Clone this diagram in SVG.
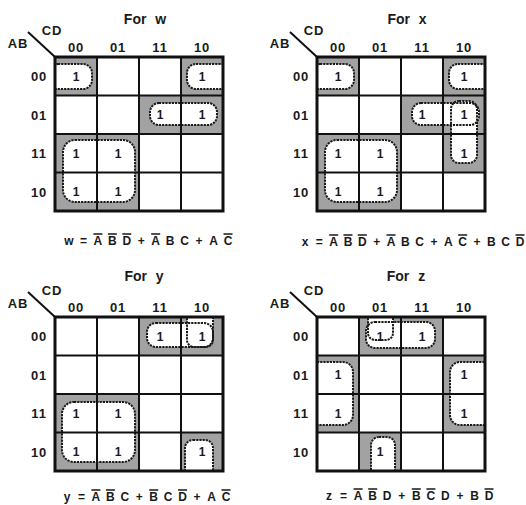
<svg xmlns="http://www.w3.org/2000/svg" width="526" height="505" viewBox="0 0 526 505">
<style>
text { font-family: "Liberation Sans", Arial, sans-serif; fill: #1a1a1a; }
.t { font-size: 14px; font-weight: bold; text-anchor: middle; word-spacing: 5px; }
.h { font-size: 13px; font-weight: bold; text-anchor: middle; letter-spacing: 0.8px; }
.one { font-size: 12px; font-weight: bold; text-anchor: middle; }
.eq { font-size: 12px; font-weight: bold; text-anchor: middle; }
.sh { fill: #a2a2a2; }
.lf { fill: #ffffff; }
.ls { fill: none; stroke: #1a1a1a; stroke-width: 2; stroke-dasharray: 2.2 1; }
.gi { stroke: #111; stroke-width: 2; fill: none; }
.go { stroke: #111; stroke-width: 3; fill: none; }
.diag { stroke: #111; stroke-width: 2; }
.ob { stroke: #1a1a1a; stroke-width: 1.3; }
</style>
<defs>
<clipPath id="cl"><rect x="0" y="0" width="168" height="154"/></clipPath>
<g id="grid">
<path class="gi" d="M42 0V154M84 0V154M126 0V154M0 38.5H168M0 77H168M0 115.5H168"/>
<rect class="go" x="0" y="0" width="168" height="154"/>
</g>
<g id="labels">
<line class="diag" x1="-27" y1="-25" x2="0" y2="0"/>
<text class="h" x="-3" y="-22">CD</text>
<text class="h" x="-37" y="-9">AB</text>
<text class="h" x="21" y="-5">00</text>
<text class="h" x="63" y="-5">01</text>
<text class="h" x="105" y="-5">11</text>
<text class="h" x="147" y="-5">10</text>
<text class="h" x="-16" y="24">00</text>
<text class="h" x="-16" y="62.5">01</text>
<text class="h" x="-16" y="101">11</text>
<text class="h" x="-16" y="139.5">10</text>
</g>
</defs>

<g id="map-w" transform="translate(55,57)">
<text class="t" x="90" y="-33">For w</text>
<use href="#labels"/>
<g clip-path="url(#cl)">
<rect class="sh" x="0" y="0" width="42" height="38.5"/>
<rect class="sh" x="126" y="0" width="42" height="38.5"/>
<rect class="sh" x="84" y="38.5" width="84" height="38.5"/>
<rect class="sh" x="0" y="77" width="84" height="77"/>
<rect class="lf" x="-6" y="7" width="43" height="25" rx="9"/>
<rect class="lf" x="132" y="7" width="42" height="25" rx="9"/>
<rect class="lf" x="95" y="46" width="67" height="22" rx="9"/>
<rect class="lf" x="8" y="83" width="72" height="62" rx="12"/>
<rect class="ls" x="-6" y="7" width="43" height="25" rx="9"/>
<rect class="ls" x="132" y="7" width="42" height="25" rx="9"/>
<rect class="ls" x="95" y="46" width="67" height="22" rx="9"/>
<rect class="ls" x="8" y="83" width="72" height="62" rx="12"/>
</g>
<use href="#grid"/>
<text class="one" x="21" y="23.5">1</text>
<text class="one" x="147" y="23.5">1</text>
<text class="one" x="105" y="62">1</text>
<text class="one" x="147" y="62">1</text>
<text class="one" x="21" y="100.5">1</text>
<text class="one" x="63" y="100.5">1</text>
<text class="one" x="21" y="139">1</text>
<text class="one" x="63" y="139">1</text>
<text class="eq" x="14 28.5 42.9 57.4 71.8 86.3 100.7 115.2 129.6 144.1 158.5 173" y="188">w=ABD+ABC+AC</text>
<path class="ob" d="M38.4 177H47.4M52.9 177H61.9M67.3 177H76.3M96.2 177H105.2M168.5 177H177.5"/>
</g>

<g id="map-x" transform="translate(317,57)">
<text class="t" x="90" y="-33">For x</text>
<use href="#labels"/>
<g clip-path="url(#cl)">
<rect class="sh" x="0" y="0" width="42" height="38.5"/>
<rect class="sh" x="126" y="0" width="42" height="38.5"/>
<rect class="sh" x="84" y="38.5" width="84" height="38.5"/>
<rect class="sh" x="126" y="77" width="42" height="38.5"/>
<rect class="sh" x="0" y="77" width="84" height="77"/>
<rect class="lf" x="-6" y="7" width="43" height="25" rx="9"/>
<rect class="lf" x="132" y="7" width="42" height="25" rx="9"/>
<rect class="lf" x="95" y="46" width="67" height="22" rx="9"/>
<rect class="lf" x="134" y="44" width="26" height="62" rx="8"/>
<rect class="lf" x="8" y="83" width="72" height="62" rx="12"/>
<rect class="ls" x="-6" y="7" width="43" height="25" rx="9"/>
<rect class="ls" x="132" y="7" width="42" height="25" rx="9"/>
<rect class="ls" x="95" y="46" width="67" height="22" rx="9"/>
<rect class="ls" x="134" y="44" width="26" height="62" rx="8"/>
<rect class="ls" x="8" y="83" width="72" height="62" rx="12"/>
</g>
<use href="#grid"/>
<text class="one" x="21" y="23.5">1</text>
<text class="one" x="147" y="23.5">1</text>
<text class="one" x="105" y="62">1</text>
<text class="one" x="147" y="62">1</text>
<text class="one" x="147" y="100.5">1</text>
<text class="one" x="21" y="100.5">1</text>
<text class="one" x="63" y="100.5">1</text>
<text class="one" x="21" y="139">1</text>
<text class="one" x="63" y="139">1</text>
<text class="eq" x="-12 2.3 16.7 31 45.3 59.7 74 88.3 102.7 117 131.3 145.7 160 174.3 188.7 203" y="189">x=ABD+ABC+AC+BCD</text>
<path class="ob" d="M12.2 178H21.2M26.5 178H35.5M40.8 178H49.8M69.5 178H78.5M141.2 178H150.2M198.5 178H207.5"/>
</g>

<g id="map-y" transform="translate(55,317)">
<text class="t" x="89" y="-36">For y</text>
<use href="#labels"/>
<g clip-path="url(#cl)">
<rect class="sh" x="84" y="0" width="84" height="38.5"/>
<rect class="sh" x="0" y="77" width="84" height="77"/>
<rect class="sh" x="126" y="115.5" width="42" height="38.5"/>
<rect class="lf" x="92" y="6" width="66" height="24" rx="9"/>
<rect class="lf" x="132" y="-10" width="26" height="40" rx="7"/>
<rect class="lf" x="130" y="123" width="28" height="45" rx="8"/>
<rect class="lf" x="7" y="85" width="73" height="60" rx="12"/>
<rect class="ls" x="92" y="6" width="66" height="24" rx="9"/>
<rect class="ls" x="132" y="-10" width="26" height="40" rx="7"/>
<rect class="ls" x="130" y="123" width="28" height="45" rx="8"/>
<rect class="ls" x="7" y="85" width="73" height="60" rx="12"/>
</g>
<use href="#grid"/>
<text class="one" x="105" y="23.5">1</text>
<text class="one" x="147" y="23.5">1</text>
<text class="one" x="21" y="100.5">1</text>
<text class="one" x="63" y="100.5">1</text>
<text class="one" x="21" y="139">1</text>
<text class="one" x="63" y="139">1</text>
<text class="one" x="147" y="139">1</text>
<text class="eq" x="12 26.5 40.9 55.4 69.8 84.3 98.7 113.2 127.6 142.1 156.5 171" y="184">y=ABC+BCD+AC</text>
<path class="ob" d="M36.4 173H45.4M50.9 173H59.9M94.2 173H103.2M123.1 173H132.1M166.5 173H175.5"/>
</g>

<g id="map-z" transform="translate(317,317)">
<text class="t" x="89" y="-36">For z</text>
<use href="#labels"/>
<g clip-path="url(#cl)">
<rect class="sh" x="42" y="0" width="84" height="38.5"/>
<rect class="sh" x="0" y="38.5" width="42" height="77"/>
<rect class="sh" x="126" y="38.5" width="42" height="77"/>
<rect class="sh" x="42" y="115.5" width="42" height="38.5"/>
<rect class="lf" x="49" y="5" width="69" height="26" rx="9"/>
<rect class="lf" x="51" y="-10" width="25" height="33" rx="7"/>
<rect class="lf" x="54" y="120" width="24" height="45" rx="8"/>
<rect class="lf" x="-10" y="45" width="46" height="63" rx="10"/>
<rect class="lf" x="133" y="45" width="45" height="63" rx="10"/>
<rect class="ls" x="49" y="5" width="69" height="26" rx="9"/>
<rect class="ls" x="51" y="-10" width="25" height="33" rx="7"/>
<rect class="ls" x="54" y="120" width="24" height="45" rx="8"/>
<rect class="ls" x="-10" y="45" width="46" height="63" rx="10"/>
<rect class="ls" x="133" y="45" width="45" height="63" rx="10"/>
</g>
<use href="#grid"/>
<text class="one" x="63" y="23.5">1</text>
<text class="one" x="105" y="23.5">1</text>
<text class="one" x="21" y="62">1</text>
<text class="one" x="147" y="62">1</text>
<text class="one" x="21" y="100.5">1</text>
<text class="one" x="147" y="100.5">1</text>
<text class="one" x="63" y="139">1</text>
<text class="eq" x="12 26.5 41.1 55.7 70.2 84.8 99.3 113.9 128.4 143 157.5 172" y="183">z=ABD+BCD+BD</text>
<path class="ob" d="M36.6 172H45.6M51.2 172H60.2M94.8 172H103.8M109.4 172H118.4M167.5 172H176.5"/>
</g>
</svg>
